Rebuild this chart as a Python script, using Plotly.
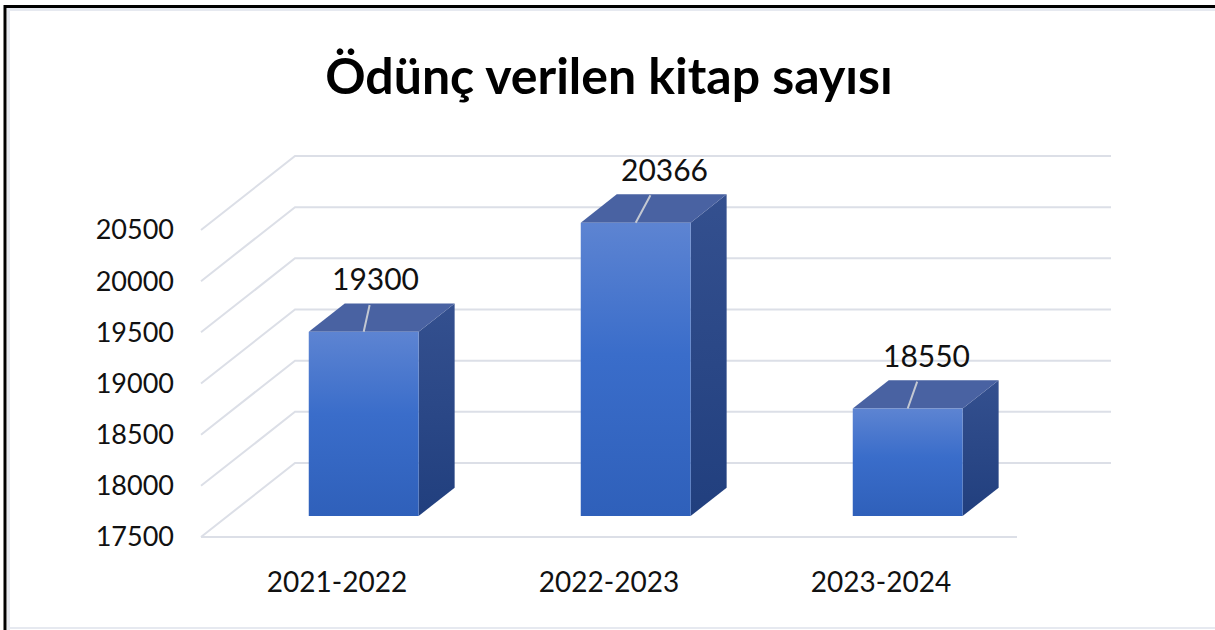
import plotly.graph_objects as go

# ---------------- data ----------------
categories = ["2021-2022", "2022-2023", "2023-2024"]
values = [19300, 20366, 18550]
y_ticks = [17500, 18000, 18500, 19000, 19500, 20000, 20500]
title_text = "Ödünç verilen kitap sayısı"

# ---------------- geometry / style ----------------
W, H = 1215, 630
PX_FRONT_LEFT = 201      # px where the front floor edge starts
CAT_PX = 272             # px per category on the front edge
PX_BASE = 537            # px of the lowest tick on the front edge
PX_PER_VAL = 307 / 3000  # px per value unit
DEPTH_X_PX, DEPTH_Y_PX = 94, 74
PAD = 4

DX = DEPTH_X_PX / CAT_PX
DY = DEPTH_Y_PX / PX_PER_VAL
D0, D1 = 0.284, 0.667     # bar depth from/to (fraction of floor depth)
HW = 0.202                # half width of a bar in category units

vmin, vmax = y_ticks[0], y_ticks[-1]
n = len(categories)
x_lo = -0.5 - PAD / CAT_PX
x_hi = n - 0.5 + DX + PAD / CAT_PX
y_lo = vmin - PAD / PX_PER_VAL
y_hi = vmax + DY + PAD / PX_PER_VAL

m_l = PX_FRONT_LEFT - PAD
plot_w = (x_hi - x_lo) * CAT_PX
m_r = W - m_l - plot_w
m_b = H - (PX_BASE + PAD)
plot_h = (y_hi - y_lo) * PX_PER_VAL
m_t = H - m_b - plot_h

GRID = "#dcdfe7"
fig = go.Figure()

# gridlines: back wall, left wall and front floor edge
gx, gy = [], []
for v in y_ticks:
    gx += [-0.5, -0.5 + DX, n - 0.5 + DX, None]
    gy += [v, v + DY, v + DY, None]
gx += [-0.5, n - 0.5, None]
gy += [vmin, vmin, None]
fig.add_trace(go.Scatter(x=gx, y=gy, mode="lines", line=dict(color=GRID, width=2),
                         hoverinfo="skip", showlegend=False))

dd = D1 - D0
for i, v in enumerate(values):
    xl = i - HW + D0 * DX
    xr = i + HW + D0 * DX
    b0 = vmin + D0 * DY
    t0 = v + D0 * DY
    # side face
    fig.add_trace(go.Scatter(
        x=[xr, xr + dd * DX, xr + dd * DX, xr, xr],
        y=[b0, b0 + dd * DY, t0 + dd * DY, t0, b0],
        mode="lines", fill="toself", line=dict(width=0, color="rgba(0,0,0,0)"),
        fillgradient=dict(type="vertical",
                          colorscale=[[0, "#213f7e"], [1, "#34508f"]]),
        hoverinfo="skip", showlegend=False))
    # top face
    fig.add_trace(go.Scatter(
        x=[xl, xr, xr + dd * DX, xl + dd * DX, xl],
        y=[t0, t0, t0 + dd * DY, t0 + dd * DY, t0],
        mode="lines", fill="toself", line=dict(width=0, color="rgba(0,0,0,0)"),
        fillcolor="#4962a2", hoverinfo="skip", showlegend=False))
    # front face
    fig.add_trace(go.Scatter(
        x=[xl, xr, xr, xl, xl],
        y=[b0, b0, t0, t0, b0],
        mode="lines", fill="toself", line=dict(width=0, color="rgba(0,0,0,0)"),
        fillgradient=dict(type="vertical",
                          colorscale=[[0, "#2f60ba"], [0.55, "#3a6dca"], [1, "#5d84d2"]]),
        hoverinfo="skip", showlegend=False))

label_ax = [12, 29, 19]
for i, v in enumerate(values):
    fig.add_annotation(
        x=i + D0 * DX, y=v + D0 * DY, xref="x", yref="y",
        text=str(v), showarrow=True, arrowhead=0, arrowwidth=2,
        arrowcolor="#c3c8d2", ax=label_ax[i], ay=-54, startstandoff=8,
        font=dict(family="Lato", size=30, color="#111111"))

def px_x(p):
    return (p - m_l) / plot_w

def px_y(p):
    return (H - m_b - p) / plot_h

# outer frame (black top/left edge with light inner line)
frame = [
    dict(x0=px_x(7), x1=px_x(1215), y0=px_y(9.5), y1=px_y(9.5), color="#e6e9f0", w=3),
    dict(x0=px_x(8.5), x1=px_x(8.5), y0=px_y(8), y1=px_y(630), color="#e6e9f0", w=3),
    dict(x0=px_x(7), x1=px_x(1215), y0=px_y(628), y1=px_y(628), color="#e6e9f0", w=2),
    dict(x0=px_x(4), x1=px_x(1215), y0=px_y(6.5), y1=px_y(6.5), color="#000000", w=3),
    dict(x0=px_x(5), x1=px_x(5), y0=px_y(5), y1=px_y(630), color="#000000", w=3),
]
for f in frame:
    fig.add_shape(type="line", xref="paper", yref="paper", x0=f["x0"], x1=f["x1"],
                  y0=f["y0"], y1=f["y1"], line=dict(color=f["color"], width=f["w"]),
                  layer="above")

fig.update_layout(
    width=W, height=H,
    margin=dict(l=m_l, r=m_r, t=m_t, b=m_b),
    paper_bgcolor="white", plot_bgcolor="white",
    title=dict(text="<b>" + title_text + "</b>", x=609 / W, xref="container",
               xanchor="center", y=1 - 76 / H, yref="container", yanchor="middle",
               font=dict(family="Lato", size=50, color="#000000")),
    xaxis=dict(range=[x_lo, x_hi], tickvals=list(range(n)), ticktext=categories,
               showgrid=False, zeroline=False, showline=False, ticks="",
               ticklabelstandoff=22, fixedrange=True,
               tickfont=dict(family="Lato", size=28, color="#111111")),
    yaxis=dict(range=[y_lo, y_hi], tickvals=y_ticks, ticktext=[str(t) for t in y_ticks],
               showgrid=False, zeroline=False, showline=False, ticks="",
               ticklabelstandoff=22, fixedrange=True,
               tickfont=dict(family="Lato", size=27, color="#111111")),
    showlegend=False,
)

fig.write_html(
    "out.html",
    config={"displayModeBar": False},
    post_script="document.body.style.margin='0';document.body.style.overflow='hidden';",
)
